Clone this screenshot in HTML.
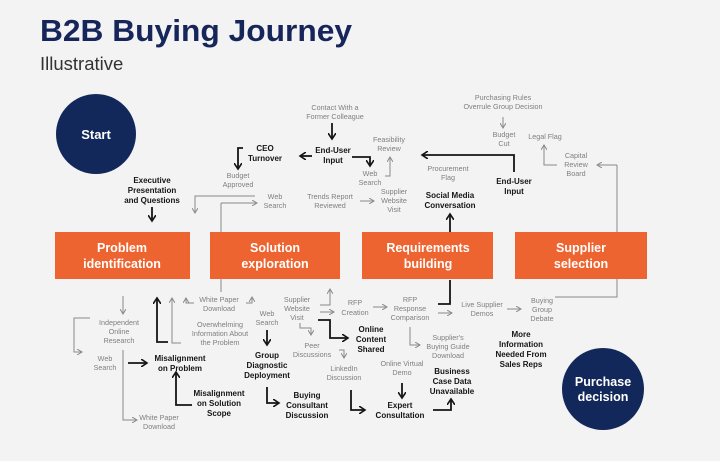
<!DOCTYPE html>
<html><head><meta charset="utf-8"><style>
html,body{margin:0;padding:0;background:#f3f3f3;}
svg{display:block;font-family:"Liberation Sans",sans-serif;}
.g{fill:#7f7f7f;font-size:7.2px;text-anchor:middle;}
.b{fill:#151515;font-size:8px;font-weight:bold;text-anchor:middle;}
.w{fill:#fff;font-size:12.5px;font-weight:bold;text-anchor:middle;}
.t{stroke:#8a8a8a;stroke-width:1;fill:none;}
.k{stroke:#151515;stroke-width:1.8;fill:none;}
</style></head><body>
<svg width="720" height="461" viewBox="0 0 720 461">
<defs>
<marker id="ag" markerWidth="6" markerHeight="6" refX="5" refY="3" orient="auto" markerUnits="userSpaceOnUse"><path d="M0,0 L5,3 L0,6" fill="none" stroke="#8a8a8a" stroke-width="1"/></marker>
<marker id="ak" markerWidth="8" markerHeight="8" refX="6" refY="4" orient="auto" markerUnits="userSpaceOnUse"><path d="M0,0 L6,4 L0,8" fill="none" stroke="#151515" stroke-width="1.6"/></marker>
</defs>
<text x="40" y="41" font-size="31" font-weight="bold" fill="#16265a" textLength="312" lengthAdjust="spacingAndGlyphs">B2B Buying Journey</text>
<text x="40" y="70" font-size="18.5" fill="#333">Illustrative</text>

<circle cx="96" cy="134" r="40" fill="#13285a"/>
<text x="96" y="139" fill="#fff" font-size="13" font-weight="bold" text-anchor="middle">Start</text>
<circle cx="603" cy="389" r="41" fill="#13285a"/>
<text x="603" y="386" fill="#fff" font-size="12.5" font-weight="bold" text-anchor="middle">Purchase</text>
<text x="603" y="401" fill="#fff" font-size="12.5" font-weight="bold" text-anchor="middle">decision</text>

<path class="t" d="M221,203 V292"/>
<path class="t" d="M617,165 V297 H555"/>
<path class="k" d="M450,232 V214" marker-end="url(#ak)"/>
<path class="k" d="M450,280 V304 H438"/>

<rect x="55" y="232" width="135" height="47" fill="#ee6430"/>
<rect x="210" y="232" width="130" height="47" fill="#ee6430"/>
<rect x="362" y="232" width="131" height="47" fill="#ee6430"/>
<rect x="515" y="232" width="132" height="47" fill="#ee6430"/>
<text class="w" x="122" y="252">Problem</text><text class="w" x="122" y="268">identification</text>
<text class="w" x="275" y="252">Solution</text><text class="w" x="275" y="268">exploration</text>
<text class="w" x="428" y="252">Requirements</text><text class="w" x="428" y="268">building</text>
<text class="w" x="581" y="252">Supplier</text><text class="w" x="581" y="268">selection</text>

<text class="g" x="335" y="110">Contact With a</text><text class="g" x="335" y="119">Former Colleague</text>
<path class="k" d="M332,123 V139" marker-end="url(#ak)"/>
<text class="b" x="333" y="153">End-User</text><text class="b" x="333" y="163">Input</text>
<path class="k" d="M312,156 H300" marker-end="url(#ak)"/>
<text class="b" x="265" y="151">CEO</text><text class="b" x="265" y="161">Turnover</text>
<path class="k" d="M243,148 H238 V169" marker-end="url(#ak)"/>
<text class="g" x="238" y="178">Budget</text><text class="g" x="238" y="187">Approved</text>
<path class="k" d="M352,157 H370 V166" marker-end="url(#ak)"/>
<text class="g" x="370" y="176">Web</text><text class="g" x="370" y="185">Search</text>
<text class="g" x="389" y="142">Feasibility</text><text class="g" x="389" y="151">Review</text>
<path class="t" d="M385,176 H390 V157" marker-end="url(#ag)"/>
<text class="b" x="152" y="183">Executive</text><text class="b" x="152" y="193">Presentation</text><text class="b" x="152" y="203">and Questions</text>
<path class="k" d="M152,207 V221" marker-end="url(#ak)"/>
<path class="t" d="M255,196 H195 V213" marker-end="url(#ag)"/>
<path class="t" d="M221,203 H257" marker-end="url(#ag)"/>
<text class="g" x="275" y="199">Web</text><text class="g" x="275" y="208">Search</text>
<text class="g" x="330" y="199">Trends Report</text><text class="g" x="330" y="208">Reviewed</text>
<path class="t" d="M360,201 H374" marker-end="url(#ag)"/>
<text class="g" x="394" y="194">Supplier</text><text class="g" x="394" y="203">Website</text><text class="g" x="394" y="212">Visit</text>
<text class="g" x="448" y="171">Procurement</text><text class="g" x="448" y="180">Flag</text>
<path class="k" d="M514,172 V155 H422" marker-end="url(#ak)"/>
<text class="b" x="514" y="184">End-User</text><text class="b" x="514" y="194">Input</text>
<text class="b" x="450" y="198">Social Media</text><text class="b" x="450" y="208">Conversation</text>
<text class="g" x="503" y="100">Purchasing Rules</text><text class="g" x="503" y="109">Overrule Group Decision</text>
<path class="t" d="M503,117 V128" marker-end="url(#ag)"/>
<text class="g" x="504" y="137">Budget</text><text class="g" x="504" y="146">Cut</text>
<text class="g" x="545" y="139">Legal Flag</text>
<path class="t" d="M557,165 H544 V145" marker-end="url(#ag)"/>
<text class="g" x="576" y="158">Capital</text><text class="g" x="576" y="167">Review</text><text class="g" x="576" y="176">Board</text>
<path class="t" d="M617,165 H597" marker-end="url(#ag)"/>

<path class="t" d="M123,296 V314" marker-end="url(#ag)"/>
<text class="g" x="119" y="325">Independent</text><text class="g" x="119" y="334">Online</text><text class="g" x="119" y="343">Research</text>
<path class="t" d="M90,318 H74 V352 H82" marker-end="url(#ag)"/>
<text class="g" x="105" y="361">Web</text><text class="g" x="105" y="370">Search</text>
<path class="k" d="M128,363 H147" marker-end="url(#ak)"/>
<text class="b" x="180" y="361">Misalignment</text><text class="b" x="180" y="371">on Problem</text>
<path class="k" d="M168,342 H157 V298" marker-end="url(#ak)"/>
<path class="t" d="M181,343 H172 V298" marker-end="url(#ag)"/>
<path class="t" d="M194,303 H186 V298" marker-end="url(#ag)"/>
<text class="g" x="219" y="302">White Paper</text><text class="g" x="219" y="311">Download</text>
<path class="t" d="M246,303 H252 V297" marker-end="url(#ag)"/>
<text class="g" x="220" y="327">Overwhelming</text><text class="g" x="220" y="336">Information About</text><text class="g" x="220" y="345">the Problem</text>
<text class="g" x="267" y="316">Web</text><text class="g" x="267" y="325">Search</text>
<path class="k" d="M267,330 V345" marker-end="url(#ak)"/>
<text class="b" x="267" y="358">Group</text><text class="b" x="267" y="368">Diagnostic</text><text class="b" x="267" y="378">Deployment</text>
<path class="k" d="M267,387 V403 H279" marker-end="url(#ak)"/>
<text class="b" x="307" y="398">Buying</text><text class="b" x="307" y="408">Consultant</text><text class="b" x="307" y="418">Discussion</text>
<text class="b" x="219" y="396">Misalignment</text><text class="b" x="219" y="406">on Solution</text><text class="b" x="219" y="416">Scope</text>
<path class="k" d="M192,405 H176 V372" marker-end="url(#ak)"/>
<path class="t" d="M123,350 V420 H137" marker-end="url(#ag)"/>
<text class="g" x="159" y="420">White Paper</text><text class="g" x="159" y="429">Download</text>

<text class="g" x="297" y="302">Supplier</text><text class="g" x="297" y="311">Website</text><text class="g" x="297" y="320">Visit</text>
<path class="t" d="M320,305 H330 V289" marker-end="url(#ag)"/>
<path class="t" d="M320,312 H334" marker-end="url(#ag)"/>
<text class="g" x="355" y="305">RFP</text><text class="g" x="355" y="315">Creation</text>
<path class="t" d="M373,307 H387" marker-end="url(#ag)"/>
<text class="g" x="410" y="302">RFP</text><text class="g" x="410" y="311">Response</text><text class="g" x="410" y="320">Comparison</text>
<path class="t" d="M438,313 H452" marker-end="url(#ag)"/>
<text class="g" x="482" y="307">Live Supplier</text><text class="g" x="482" y="316">Demos</text>
<path class="t" d="M507,309 H521" marker-end="url(#ag)"/>
<text class="g" x="542" y="303">Buying</text><text class="g" x="542" y="312">Group</text><text class="g" x="542" y="321">Debate</text>
<path class="k" d="M318,320 H330 V338 H348" marker-end="url(#ak)"/>
<text class="b" x="371" y="332">Online</text><text class="b" x="371" y="342">Content</text><text class="b" x="371" y="352">Shared</text>
<path class="t" d="M300,323 V328 H311 V335" marker-end="url(#ag)"/>
<text class="g" x="312" y="348">Peer</text><text class="g" x="312" y="357">Discussions</text>
<path class="t" d="M339,350 H344 V358" marker-end="url(#ag)"/>
<text class="g" x="344" y="371">LinkedIn</text><text class="g" x="344" y="380">Discussion</text>
<path class="k" d="M351,390 V410 H365" marker-end="url(#ak)"/>
<text class="b" x="400" y="408">Expert</text><text class="b" x="400" y="418">Consultation</text>
<text class="g" x="402" y="366">Online Virtual</text><text class="g" x="402" y="375">Demo</text>
<path class="k" d="M402,383 V398" marker-end="url(#ak)"/>
<path class="t" d="M410,327 V345 H420" marker-end="url(#ag)"/>
<text class="g" x="448" y="340">Supplier's</text><text class="g" x="448" y="349">Buying Guide</text><text class="g" x="448" y="358">Download</text>
<text class="b" x="452" y="374">Business</text><text class="b" x="452" y="384">Case Data</text><text class="b" x="452" y="394">Unavailable</text>
<path class="k" d="M433,410 H451 V399" marker-end="url(#ak)"/>
<text class="b" x="521" y="337">More</text><text class="b" x="521" y="347">Information</text><text class="b" x="521" y="357">Needed From</text><text class="b" x="521" y="367">Sales Reps</text>
</svg>
</body></html>
